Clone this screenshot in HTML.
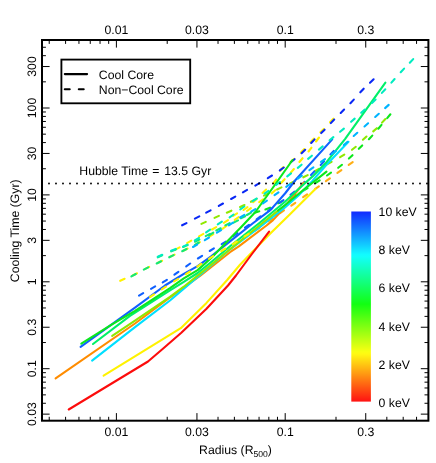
<!DOCTYPE html>
<html><head><meta charset="utf-8"><title>Cooling Time</title>
<style>html,body{margin:0;padding:0;background:#fff}body{width:436px;height:463px;overflow:hidden}svg{will-change:transform;opacity:0.9999;text-rendering:geometricPrecision}</style></head>
<body>
<svg width="436" height="463" viewBox="0 0 436 463" style="display:block;font-family:'Liberation Sans',sans-serif;font-size:12.25px" fill="#000">
<rect width="436" height="463" fill="#fff"/>
<g fill="none" stroke-width="2.10" stroke-linecap="round" stroke-linejoin="round">
<path d="M201.4 223.9 L205.8 221.9 M214.5 217.9 L218.9 215.9 M226.8 212.7 L231.4 210.7 M240.1 207.0 L244.5 205.0 M250.9 201.8 L255.3 199.6 M264.0 195.6 L268.4 193.5 M277.1 189.5 L281.5 187.4 M290.2 183.4 L294.6 181.3 M303.3 177.3 L307.7 175.1 M314.8 171.2 L319.0 168.8 M327.4 164.2 L331.6 161.8 M340.1 157.2 L344.3 154.6 M352.0 149.8 L355.8 146.8 M362.9 139.7 L366.5 136.5 M373.2 131.4 L376.8 128.2 M382.0 122.6 L385.4 119.0" stroke="#90e800"/>
<path d="M120.2 280.8 L124.6 278.8 M132.6 275.5 L137.0 273.3 M144.8 269.1 L149.2 266.9 M157.7 263.0 L162.1 260.8 M170.2 256.8 L174.6 254.6 M183.2 250.7 L187.6 248.5 M195.7 244.5 L199.9 242.1 M209.1 236.8 L213.3 234.2 M222.4 228.8 L226.4 226.0 M234.7 219.9 L238.7 217.1 M247.0 211.0 L250.9 208.2 M259.2 202.1 L263.2 199.3 M271.7 193.4 L275.3 190.2 M281.4 182.8 L284.6 179.2 M290.7 172.8 L293.9 169.0 M299.4 162.0 L302.6 158.2 M308.5 151.5 L311.5 147.7 M316.0 141.5 L319.0 137.5" stroke="#fff200"/>
<path d="M131.4 276.4 L135.8 274.0 M143.8 269.6 L148.2 267.4 M156.7 263.5 L161.1 261.3 M169.2 257.3 L173.6 255.1 M182.2 251.2 L186.6 249.0 M194.7 245.1 L198.9 242.5 M209.1 235.3 L213.3 232.7 M225.3 225.4 L229.7 223.2 M240.8 218.2 L245.2 216.2" stroke="#14e874"/>
<path d="M175.4 249.7 L179.6 247.3 M187.1 243.1 L191.3 240.7 M199.0 236.3 L203.4 233.9 M212.0 229.5 L216.2 227.1 M223.8 222.8 L228.0 220.2 M233.1 215.9 L237.1 213.3 M243.5 210.0 L247.5 207.2 M253.2 202.2 L256.8 198.8 M262.5 192.9 L266.1 189.5 M273.3 183.3 L276.3 179.5 M280.2 170.8 L283.4 167.0 M290.6 162.0 L294.2 158.8 M300.9 152.4 L304.3 149.0 M310.4 142.2 L313.8 138.6 M320.4 132.3 L323.8 128.9 M330.0 122.3 L333.4 118.7" stroke="#fff200"/>
<path d="M157.8 257.3 L162.2 255.3 M171.2 251.3 L175.8 249.5 M183.1 246.9 L187.7 245.1 M195.0 241.7 L199.4 239.5 M205.7 236.1 L210.0 233.9 M216.3 230.5 L220.7 228.3 M233.6 222.6 L238.0 220.4 M246.9 215.0 L251.1 212.6" stroke="#14e874"/>
<path d="M254.7 212.7 L259.3 211.3 M265.4 209.5 L270.0 207.7 M278.1 203.3 L282.5 201.1 M290.7 196.9 L295.1 194.7 M303.4 190.6 L307.6 188.2 M315.5 183.0 L319.7 180.4 M327.0 175.5 L331.0 172.7 M338.2 167.8 L342.0 164.8 M348.9 158.6 L352.5 155.2 M358.8 148.8 L362.2 145.4 M368.9 139.2 L372.3 135.6 M378.3 128.7 L381.5 124.9 M387.2 118.1 L390.4 114.3" stroke="#0ce81c"/>
<path d="M255.5 230.4 L259.5 227.6 M268.5 221.1 L272.5 218.3 M280.0 213.2 L284.0 210.4 M291.3 205.6 L295.3 202.8 M303.1 197.2 L307.1 194.4 M314.9 189.1 L318.9 186.3 M325.9 181.2 L329.9 178.4 M337.4 172.9 L341.4 170.1 M348.7 164.9 L352.7 162.1" stroke="#ffae14"/>
<path d="M139.0 295.6 L143.2 293.2 M151.0 288.8 L155.2 286.4 M162.7 282.4 L166.9 279.8 M174.4 274.7 L178.4 271.9 M186.2 266.3 L190.2 263.5 M197.9 258.5 L202.1 255.9 M209.7 251.0 L213.9 248.4 M221.7 244.2 L225.9 241.6 M233.4 236.0 L237.4 233.1 M245.0 227.6 L249.0 224.8 M256.6 219.3 L260.6 216.4 M268.2 210.9 L272.2 208.1 M279.5 203.0 L283.5 200.2 M290.5 194.9 L294.3 191.7 M301.3 185.2 L304.7 181.8 M311.0 175.0 L314.4 171.4 M320.7 165.0 L324.1 161.4 M330.4 154.5 L333.8 150.9" stroke="#1060ff"/>
<path d="M182.1 225.3 L186.5 223.1 M194.9 218.6 L199.3 216.4 M206.2 212.7 L210.6 210.3 M218.8 205.9 L223.0 203.5 M231.1 199.0 L235.3 196.6 M242.9 192.3 L247.1 189.9 M255.3 185.6 L259.5 183.2 M267.8 178.1 L272.0 175.5 M279.8 170.3 L283.8 167.5 M290.8 162.2 L294.6 159.2 M301.6 153.2 L305.2 149.8 M311.2 143.0 L314.6 139.4 M321.2 133.1 L324.6 129.7 M330.8 123.1 L334.2 119.5 M340.7 113.0 L344.1 109.6 M350.4 103.2 L353.8 99.6 M360.3 92.3 L363.7 88.7 M370.0 82.7 L373.6 79.3" stroke="#0a28f5"/>
<path d="M55.6 378.3 L135.0 323.5 L170.0 297.5 L200.0 276.0 L230.0 252.2 L238.8 246.4 L266.5 225.5 L273.0 220.1 L282.6 209.7 L293.6 195.5 L304.0 182.5" stroke="#ff8c00"/>
<path d="M92.1 360.6 L135.0 327.2 L170.0 300.5 L200.0 275.0 L230.0 249.3 L260.0 227.0 L285.0 207.5 L298.8 195.3 L312.6 180.6 L326.5 164.7 L348.5 141.8" stroke="#00e0ff"/>
<path d="M112.2 335.8 L135.0 320.7 L170.0 296.9 L183.8 286.7 L197.6 275.6 L211.5 264.4 L230.0 249.3 L260.0 225.0 L278.0 210.6" stroke="#90e800"/>
<path d="M278.0 210.6 L285.0 205.0 L303.0 190.3 L326.5 171.6" stroke="#0ce81c"/>
<path d="M93.0 344.0 L130.0 315.9 L170.0 290.3 L183.8 281.8 L197.6 273.0 L211.5 261.8 L230.0 246.3 L260.0 222.5 L285.0 201.8 L298.8 188.8 L312.6 176.4 L326.5 162.2 L345.0 139.1 L385.4 82.7" stroke="#00f068"/>
<path d="M80.6 346.8 L135.0 307.6 L165.0 285.5 L183.8 273.9 L197.6 266.2 L211.5 256.0 L230.0 241.4 L252.6 223.5 L270.6 209.9 L285.0 193.5 L295.5 180.0 L332.2 139.4" stroke="#1060ff"/>
<path d="M81.3 343.7 L112.0 324.3 L135.0 310.8 L170.0 288.2 L183.8 278.4 L197.6 270.1 L211.5 257.8 L227.6 241.1 L241.5 226.8 L255.4 212.0 L274.8 185.0 L292.5 160.0" stroke="#0ce81c"/>
<path d="M103.6 375.6 L180.8 328.2 L206.5 302.9 L227.2 280.0 L240.0 264.8 L250.8 253.5 L270.3 233.6 L290.0 214.2 L315.4 189.0" stroke="#fff200"/>
<path d="M68.7 409.5 L148.0 361.5 L162.9 348.8 L181.3 332.8 L206.5 308.7 L228.0 285.5 L236.0 275.5 L251.9 254.0 L269.1 231.7" stroke="#fc0c0c"/>
<path d="M150.1 297.0 L154.1 294.4 M161.7 289.3 L165.9 286.7 M174.1 281.4 L178.3 278.8 M185.9 274.1 L190.1 271.5 M197.3 266.6 L201.3 263.8 M208.9 258.8 L213.1 256.2 M221.2 251.1 L225.4 248.5 M232.7 244.1 L236.9 241.5 M244.5 236.5 L248.7 233.9" stroke="#fff200"/>
<path d="M157.8 256.8 L162.2 254.8 M171.2 250.7 L175.8 248.9 M183.0 246.6 L187.4 244.6 M194.8 240.5 L199.0 237.9 M206.1 232.4 L210.1 229.6 M217.7 224.3 L221.9 221.7 M229.6 217.3 L233.6 214.5 M240.3 209.3 L244.3 206.5 M252.6 201.1 L256.8 198.5 M264.5 193.6 L268.5 190.8 M276.1 185.0 L279.9 182.0 M287.2 176.4 L291.0 173.4 M297.8 167.9 L301.6 164.7 M308.1 158.9 L311.9 155.7 M318.9 149.6 L322.7 146.4 M329.6 140.3 L333.4 137.1 M340.1 131.8 L343.9 128.6 M351.1 121.8 L354.7 118.6 M361.2 112.8 L364.8 109.6 M372.0 102.9 L375.6 99.5 M381.9 92.9 L385.3 89.3 M391.4 82.6 L394.6 79.0 M400.7 72.2 L404.1 68.6 M409.8 62.7 L413.2 59.1" stroke="#00ecc0"/>
<path d="M193.0 247.0 L197.2 244.6 M204.8 240.1 L209.0 237.5 M216.9 232.7 L221.1 230.1 M228.8 225.3 L233.0 222.7 M240.2 217.5 L244.4 214.9 M251.2 211.7 L255.4 209.1 M262.9 203.5 L266.9 200.7 M274.5 195.2 L278.5 192.3 M286.2 186.9 L290.1 184.0 M297.8 178.6 L301.8 175.7 M309.4 170.2 L313.4 167.4 M321.0 161.9 L325.0 159.1 M332.0 154.0 L336.0 151.0 M343.8 145.0 L347.6 141.8 M353.7 136.0 L357.3 132.8 M364.5 126.5 L368.1 123.3 M375.2 117.0 L378.8 113.8 M385.1 108.1 L388.7 104.9" stroke="#00b4ff"/>
</g>
<path d="M42.0 183.5 H428.4" stroke="#000" stroke-width="1.9" stroke-linecap="round" stroke-dasharray="0 7" fill="none"/>
<path d="M49.23 40.0 v3.9 M49.23 420.7 v-3.9 M65.59 40.0 v3.9 M65.59 420.7 v-3.9 M78.95 40.0 v3.9 M78.95 420.7 v-3.9 M90.25 40.0 v3.9 M90.25 420.7 v-3.9 M100.04 40.0 v3.9 M100.04 420.7 v-3.9 M108.68 40.0 v3.9 M108.68 420.7 v-3.9 M116.40 40.0 v7.6 M116.40 420.7 v-7.6 M167.21 40.0 v3.9 M167.21 420.7 v-3.9 M196.94 40.0 v7.6 M196.94 420.7 v-7.6 M218.03 40.0 v3.9 M218.03 420.7 v-3.9 M234.39 40.0 v3.9 M234.39 420.7 v-3.9 M247.75 40.0 v3.9 M247.75 420.7 v-3.9 M259.05 40.0 v3.9 M259.05 420.7 v-3.9 M268.84 40.0 v3.9 M268.84 420.7 v-3.9 M277.48 40.0 v3.9 M277.48 420.7 v-3.9 M285.20 40.0 v7.6 M285.20 420.7 v-7.6 M336.01 40.0 v3.9 M336.01 420.7 v-3.9 M365.74 40.0 v7.6 M365.74 420.7 v-7.6 M386.83 40.0 v3.9 M386.83 420.7 v-3.9 M403.19 40.0 v3.9 M403.19 420.7 v-3.9 M416.55 40.0 v3.9 M416.55 420.7 v-3.9 M42.0 414.14 h7.6 M428.4 414.14 h-7.6 M42.0 403.28 h3.9 M428.4 403.28 h-3.9 M42.0 394.86 h3.9 M428.4 394.86 h-3.9 M42.0 387.98 h3.9 M428.4 387.98 h-3.9 M42.0 382.16 h3.9 M428.4 382.16 h-3.9 M42.0 377.12 h3.9 M428.4 377.12 h-3.9 M42.0 372.68 h3.9 M428.4 372.68 h-3.9 M42.0 368.70 h7.6 M428.4 368.70 h-7.6 M42.0 342.54 h3.9 M428.4 342.54 h-3.9 M42.0 327.24 h7.6 M428.4 327.24 h-7.6 M42.0 316.38 h3.9 M428.4 316.38 h-3.9 M42.0 307.96 h3.9 M428.4 307.96 h-3.9 M42.0 301.08 h3.9 M428.4 301.08 h-3.9 M42.0 295.26 h3.9 M428.4 295.26 h-3.9 M42.0 290.22 h3.9 M428.4 290.22 h-3.9 M42.0 285.78 h3.9 M428.4 285.78 h-3.9 M42.0 281.80 h7.6 M428.4 281.80 h-7.6 M42.0 255.64 h3.9 M428.4 255.64 h-3.9 M42.0 240.34 h7.6 M428.4 240.34 h-7.6 M42.0 229.48 h3.9 M428.4 229.48 h-3.9 M42.0 221.06 h3.9 M428.4 221.06 h-3.9 M42.0 214.18 h3.9 M428.4 214.18 h-3.9 M42.0 208.36 h3.9 M428.4 208.36 h-3.9 M42.0 203.32 h3.9 M428.4 203.32 h-3.9 M42.0 198.88 h3.9 M428.4 198.88 h-3.9 M42.0 194.90 h7.6 M428.4 194.90 h-7.6 M42.0 168.74 h3.9 M428.4 168.74 h-3.9 M42.0 153.44 h7.6 M428.4 153.44 h-7.6 M42.0 142.58 h3.9 M428.4 142.58 h-3.9 M42.0 134.16 h3.9 M428.4 134.16 h-3.9 M42.0 127.28 h3.9 M428.4 127.28 h-3.9 M42.0 121.46 h3.9 M428.4 121.46 h-3.9 M42.0 116.42 h3.9 M428.4 116.42 h-3.9 M42.0 111.98 h3.9 M428.4 111.98 h-3.9 M42.0 108.00 h7.6 M428.4 108.00 h-7.6 M42.0 81.84 h3.9 M428.4 81.84 h-3.9 M42.0 66.54 h7.6 M428.4 66.54 h-7.6 M42.0 55.68 h3.9 M428.4 55.68 h-3.9 M42.0 47.26 h3.9 M428.4 47.26 h-3.9" stroke="#000" stroke-width="1.0" fill="none"/>
<rect x="42.0" y="40.0" width="386.40" height="380.70" fill="none" stroke="#000" stroke-width="2"/>
<text x="116.4" y="34.2" text-anchor="middle">0.01</text>
<text x="116.4" y="435.8" text-anchor="middle">0.01</text>
<text x="196.9" y="34.2" text-anchor="middle">0.03</text>
<text x="196.9" y="435.8" text-anchor="middle">0.03</text>
<text x="285.2" y="34.2" text-anchor="middle">0.1</text>
<text x="285.2" y="435.8" text-anchor="middle">0.1</text>
<text x="365.7" y="34.2" text-anchor="middle">0.3</text>
<text x="365.7" y="435.8" text-anchor="middle">0.3</text>
<text transform="translate(36.2 414.1) rotate(-90)" text-anchor="middle">0.03</text>
<text transform="translate(36.2 368.7) rotate(-90)" text-anchor="middle">0.1</text>
<text transform="translate(36.2 327.2) rotate(-90)" text-anchor="middle">0.3</text>
<text transform="translate(36.2 281.8) rotate(-90)" text-anchor="middle">1</text>
<text transform="translate(36.2 240.3) rotate(-90)" text-anchor="middle">3</text>
<text transform="translate(36.2 194.9) rotate(-90)" text-anchor="middle">10</text>
<text transform="translate(36.2 153.4) rotate(-90)" text-anchor="middle">30</text>
<text transform="translate(36.2 108.0) rotate(-90)" text-anchor="middle">100</text>
<text transform="translate(36.2 66.5) rotate(-90)" text-anchor="middle">300</text>
<text transform="translate(18.7 230.8) rotate(-90)" text-anchor="middle">Cooling Time (Gyr)</text>
<text x="235.5" y="454" text-anchor="middle">Radius (R<tspan font-size="8.6" dy="2.6">500</tspan><tspan dy="-2.6">)</tspan></text>
<text x="79.3" y="174.8">Hubble Time <tspan dx="0.8">=</tspan><tspan dx="4.8">13.5 Gyr</tspan></text>
<rect x="61.4" y="59.6" width="128.8" height="43.7" fill="#fff" stroke="#000" stroke-width="1.85"/>
<path d="M64.8 74.1 H87.1" stroke="#000" stroke-width="2.1" stroke-linecap="round"/>
<path d="M64.8 89.2 H87.1" stroke="#000" stroke-width="2.1" stroke-linecap="round" stroke-dasharray="4.9 9.1"/>
<text x="98.8" y="79">Cool Core</text>
<text x="98.8" y="94">Non−Cool Core</text>
<defs><linearGradient id="cb" x1="0" y1="0" x2="0" y2="1"><stop offset="0.0000" stop-color="#122aff"/><stop offset="0.0125" stop-color="#1235ff"/><stop offset="0.0250" stop-color="#1241ff"/><stop offset="0.0375" stop-color="#124cff"/><stop offset="0.0500" stop-color="#1258ff"/><stop offset="0.0625" stop-color="#1263ff"/><stop offset="0.0750" stop-color="#126fff"/><stop offset="0.0875" stop-color="#127aff"/><stop offset="0.1000" stop-color="#1286ff"/><stop offset="0.1125" stop-color="#1292ff"/><stop offset="0.1250" stop-color="#129dff"/><stop offset="0.1375" stop-color="#12a9ff"/><stop offset="0.1500" stop-color="#12b4ff"/><stop offset="0.1625" stop-color="#12c0ff"/><stop offset="0.1750" stop-color="#12cbff"/><stop offset="0.1875" stop-color="#12d7ff"/><stop offset="0.2000" stop-color="#12e3ff"/><stop offset="0.2125" stop-color="#12eeff"/><stop offset="0.2250" stop-color="#12faff"/><stop offset="0.2375" stop-color="#12fff9"/><stop offset="0.2500" stop-color="#12ffed"/><stop offset="0.2625" stop-color="#12ffe2"/><stop offset="0.2750" stop-color="#12ffd6"/><stop offset="0.2875" stop-color="#12ffcb"/><stop offset="0.3000" stop-color="#12ffbf"/><stop offset="0.3125" stop-color="#12ffb3"/><stop offset="0.3250" stop-color="#12ffa8"/><stop offset="0.3375" stop-color="#12ff9c"/><stop offset="0.3500" stop-color="#12ff91"/><stop offset="0.3625" stop-color="#12ff85"/><stop offset="0.3750" stop-color="#12ff7a"/><stop offset="0.3875" stop-color="#12ff6e"/><stop offset="0.4000" stop-color="#12ff62"/><stop offset="0.4125" stop-color="#12ff57"/><stop offset="0.4250" stop-color="#12ff4b"/><stop offset="0.4375" stop-color="#12ff40"/><stop offset="0.4500" stop-color="#12ff34"/><stop offset="0.4625" stop-color="#12ff29"/><stop offset="0.4750" stop-color="#12ff1d"/><stop offset="0.4875" stop-color="#12ff12"/><stop offset="0.5000" stop-color="#1eff12"/><stop offset="0.5125" stop-color="#29ff12"/><stop offset="0.5250" stop-color="#35ff12"/><stop offset="0.5375" stop-color="#40ff12"/><stop offset="0.5500" stop-color="#4cff12"/><stop offset="0.5625" stop-color="#58ff12"/><stop offset="0.5750" stop-color="#63ff12"/><stop offset="0.5875" stop-color="#6fff12"/><stop offset="0.6000" stop-color="#7aff12"/><stop offset="0.6125" stop-color="#86ff12"/><stop offset="0.6250" stop-color="#91ff12"/><stop offset="0.6375" stop-color="#9dff12"/><stop offset="0.6500" stop-color="#a8ff12"/><stop offset="0.6625" stop-color="#b4ff12"/><stop offset="0.6750" stop-color="#c0ff12"/><stop offset="0.6875" stop-color="#cbff12"/><stop offset="0.7000" stop-color="#d7ff12"/><stop offset="0.7125" stop-color="#e2ff12"/><stop offset="0.7250" stop-color="#eeff12"/><stop offset="0.7375" stop-color="#f9ff12"/><stop offset="0.7500" stop-color="#fff912"/><stop offset="0.7625" stop-color="#ffee12"/><stop offset="0.7750" stop-color="#ffe212"/><stop offset="0.7875" stop-color="#ffd612"/><stop offset="0.8000" stop-color="#ffcb12"/><stop offset="0.8125" stop-color="#ffbf12"/><stop offset="0.8250" stop-color="#ffb412"/><stop offset="0.8375" stop-color="#ffa812"/><stop offset="0.8500" stop-color="#ff9d12"/><stop offset="0.8625" stop-color="#ff9112"/><stop offset="0.8750" stop-color="#ff8512"/><stop offset="0.8875" stop-color="#ff7a12"/><stop offset="0.9000" stop-color="#ff6e12"/><stop offset="0.9125" stop-color="#ff6312"/><stop offset="0.9250" stop-color="#ff5712"/><stop offset="0.9375" stop-color="#ff4c12"/><stop offset="0.9500" stop-color="#ff4012"/><stop offset="0.9625" stop-color="#ff3512"/><stop offset="0.9750" stop-color="#ff2912"/><stop offset="0.9875" stop-color="#ff1d12"/><stop offset="1.0000" stop-color="#ff1212"/></linearGradient></defs>
<rect x="351.3" y="211.5" width="19.6" height="190.1" fill="url(#cb)"/>
<text x="378.6" y="406.5">0 keV</text>
<text x="378.6" y="368.5">2 keV</text>
<text x="378.6" y="330.5">4 keV</text>
<text x="378.6" y="292.4">6 keV</text>
<text x="378.6" y="254.4">8 keV</text>
<text x="378.6" y="216.4">10 keV</text>
</svg>
</body></html>
